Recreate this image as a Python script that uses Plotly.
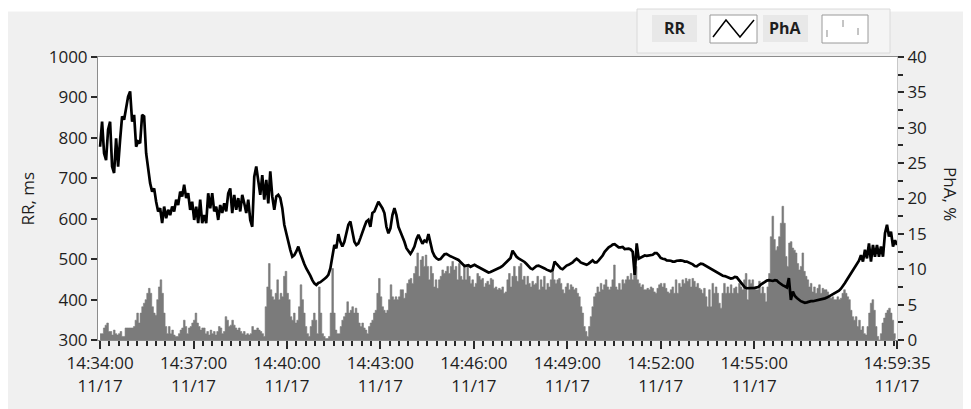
import numpy as np
import pandas as pd
import plotly.graph_objects as go

# ---------------- data ----------------
START = "2023-11-17 14:34:00"
DURATION_S = 1535  # 14:34:00 -> 14:59:35

# RR interval, ms (regular samples from 14:34:00 to 14:59:35)
RR = [
    778, 840, 762, 745, 820, 840, 729, 713, 799, 729,
    795, 853, 845, 877, 902, 915, 840, 857, 778, 791,
    787, 857, 853, 762, 725, 688, 667, 675, 642, 618,
    626, 589, 630, 601, 622, 609, 630, 618, 647, 634,
    667, 655, 684, 651, 663, 622, 642, 597, 630, 589,
    647, 589, 609, 589, 663, 626, 663, 618, 630, 597,
    634, 614, 638, 618, 663, 675, 614, 659, 622, 651,
    618, 659, 638, 614, 647, 597, 580, 704, 729, 696,
    659, 708, 647, 696, 638, 717, 655, 622, 655, 659,
    651, 626, 585, 564, 539, 523, 506, 510, 519, 531,
    515, 500, 488, 477, 469, 459, 448, 440, 436, 441,
    443, 446, 451, 455, 461, 477, 506, 535, 527, 562,
    543, 531, 543, 564, 585, 593, 564, 543, 535, 539,
    552, 568, 580, 593, 597, 580, 614, 618, 630, 642,
    634, 626, 614, 580, 564, 576, 609, 626, 609, 580,
    568, 556, 543, 527, 519, 513, 521, 531, 549, 560,
    549, 538, 546, 543, 562, 539, 519, 508, 502, 499,
    500, 506, 512, 513, 509, 507, 505, 503, 501, 498,
    493, 488, 483, 484, 485, 481, 483, 486, 483, 480,
    478, 476, 473, 470, 467, 468, 470, 473, 476, 478,
    480, 483, 488, 492, 497, 503, 521, 512, 506, 502,
    499, 497, 493, 488, 483, 477, 475, 479, 483, 484,
    482, 480, 477, 474, 472, 470, 473, 494, 488, 482,
    477, 475, 480, 484, 486, 488, 492, 497, 501, 497,
    492, 490, 487, 486, 489, 492, 497, 492, 492, 497,
    502, 509, 518, 525, 529, 532, 536, 537, 533, 529,
    529, 530, 525, 525, 526, 524, 518, 461, 539, 501,
    504, 507, 509, 508, 509, 510, 511, 515, 515, 510,
    503, 501, 500, 497, 497, 496, 494, 494, 496, 497,
    497, 496, 494, 494, 492, 490, 487, 483, 482, 486,
    489, 488, 485, 482, 480, 478, 475, 471, 467, 464,
    462, 459, 458, 456, 453, 452, 453, 456, 455, 449,
    442, 436, 430, 428, 428, 428, 428, 429, 430, 432,
    437, 441, 444, 447, 448, 446, 446, 448, 447, 442,
    438, 435, 433, 430, 453, 399, 420, 409, 404, 399,
    396, 394, 392, 393, 395, 396, 396, 397, 398, 400,
    401, 402, 403, 405, 408, 410, 412, 415, 418, 422,
    427, 433, 441, 449, 457, 465, 472, 478, 486, 496,
    510, 494, 523, 502, 539, 494, 535, 506, 535, 506,
    531, 506, 564, 585, 556, 568, 531, 547, 535,
]

# Phase angle, % (consecutive bins from 14:34:00 to 14:59:35)
PHA = [
    0.9, 0.9, 1.7, 2.1, 2.4, 1.2, 1.2, 0.7, 1.4, 0.9,
    0.7, 0.9, 1.2, 0.5, 0.5, 1.7, 1.7, 1.7, 1.7, 1.7,
    1.9, 2.8, 3.8, 2.4, 3.8, 4.7, 5.2, 5.7, 6.6, 7.3,
    6.6, 4.7, 3.8, 3.5, 5.7, 7.5, 8.5, 6.6, 3.8, 1.9,
    0.9, 1.9, 0.9, 1.4, 0.7, 0.5, 0.5, 0.9, 1.4, 1.7,
    2.8, 1.9, 0.9, 1.7, 1.9, 2.4, 2.8, 3.8, 2.4, 1.9,
    1.4, 1.7, 1.7,
    0.9, 1.2, 0.7, 1.4, 0.9, 1.2, 0.7, 1.2, 1.9, 1.7,
    0.9, 1.2, 3.3, 2.8, 1.9, 2.1, 2.8, 2.1, 1.7, 1.4,
    1.7, 1.2, 0.9, 1.2, 0.7, 0.9, 0.7, 0.9, 1.9, 1.4,
    1.4, 1.7, 1.4, 1.2, 0.9, 0.5, 4.7, 7.5, 10.8, 7.1,
    6.1, 5.7, 6.6, 8.5, 5.7, 6.6, 6.1, 9.0, 9.7, 6.6,
    5.7, 3.3, 2.8, 3.8, 2.4, 2.8, 4.7, 7.8, 5.7, 3.8,
    1.9, 0.9, 0.5, 1.9, 2.8, 3.8,
    2.8, 0.9, 7.5, 3.8, 0.9, 0.5, 0.2, 0.2, 0.5, 3.8,
    10.1, 3.8, 1.4, 0.9, 0.9, 1.9, 2.8, 3.3, 3.8, 5.4,
    3.8, 4.2, 4.7, 3.8, 4.5, 3.8, 2.4, 1.9, 2.4, 1.7,
    1.4, 0.9, 1.9, 2.4, 2.8, 3.8, 4.2, 6.6, 8.7, 6.1,
    4.7, 4.2, 3.8, 4.2, 5.7, 7.8, 6.1, 5.7, 6.1, 5.7,
    6.1, 7.1, 7.1, 5.9, 6.6, 8.0, 8.5, 8.7, 8.0, 9.4,
    10.4, 12.3, 9.0, 11.3, 11.8, 10.4,
    12.0, 10.4, 8.5, 10.4, 9.4, 7.5, 8.5, 7.3, 8.5, 9.0,
    9.9, 9.4, 9.7, 10.4, 9.4, 10.4, 11.1, 9.9, 10.4, 8.5,
    10.8, 9.0, 8.5, 10.4, 8.5, 10.4, 9.0, 8.0, 8.5, 7.5,
    8.0, 9.4, 9.0, 8.5, 8.7, 7.5, 8.0, 8.3, 7.8, 8.7,
    8.5, 7.3, 7.5, 7.1, 7.3, 7.1, 7.5, 6.6, 6.8, 8.5,
    9.4, 7.5, 9.0, 10.4, 9.0, 8.3, 10.4, 10.8, 8.5, 9.0,
    7.8, 9.0, 8.0, 7.5, 8.3, 7.8,
    8.0, 9.0, 7.1, 8.5, 7.5, 9.0, 7.1, 8.0, 7.5, 8.5,
    9.7, 8.5, 8.0, 8.5, 8.7, 8.0, 7.1, 6.6, 7.5, 8.0,
    7.1, 7.8, 7.5, 7.1, 7.3, 6.6, 6.1, 4.7, 3.8, 1.9,
    1.2, 0.5, 1.9, 3.3, 4.7, 6.1, 6.6, 7.5, 6.8, 8.0,
    7.1, 7.8, 8.5, 7.5, 7.1, 7.5, 8.5, 10.6, 7.5, 7.1,
    8.0, 7.1, 8.5, 8.0, 8.5, 9.0, 8.5, 9.4, 8.5, 9.9,
    10.4, 8.5, 8.0, 7.5, 7.8, 7.1,
    7.1, 7.3, 7.1, 7.5, 7.3, 6.8, 6.6, 7.3, 7.8, 8.0,
    7.5, 8.0, 7.3, 6.8, 6.6, 7.1, 7.5, 6.6, 8.5, 6.6,
    8.0, 7.5, 8.5, 8.0, 8.7, 8.3, 8.6, 7.5, 8.7, 8.3,
    7.5, 8.0, 7.3, 7.1, 6.6, 7.3, 6.1, 4.7, 7.1, 4.7,
    8.0, 6.6, 7.5, 6.6, 5.2, 4.5, 6.6, 8.0, 6.6, 7.5,
    6.6, 7.8, 6.6, 7.3, 7.5, 6.6, 8.0, 7.5, 7.1, 8.5,
    9.4, 5.7, 8.5, 8.0, 8.5, 7.5,
    7.1, 7.1, 8.3, 6.6, 7.5, 6.6, 5.4, 7.5, 9.4, 14.6,
    17.5, 14.2, 12.7, 13.2, 14.6, 16.5, 18.9, 16.5, 11.8, 10.4,
    13.7, 13.9, 13.0, 12.7, 12.3, 10.8, 9.9, 10.4, 12.3, 9.7,
    9.0, 8.5, 7.5, 8.0, 6.8, 7.5, 6.6, 7.3, 7.8, 6.6,
    7.3, 7.1, 7.1, 6.8, 6.1, 5.9, 6.1, 5.7, 5.7, 6.1,
    5.7, 5.9, 6.6, 7.1, 6.6, 6.1, 5.7, 4.2, 3.3, 2.8,
    3.3, 1.9, 2.8, 1.4, 1.9, 0.9, 0.7, 1.9, 3.8, 5.2,
    5.7, 4.2, 1.9, 0.5, 0.0, 0.9, 2.4, 3.1, 3.8, 4.2,
    4.5, 3.8, 2.8, 0.9, 0.2,
]

TICK_TIMES = ["14:34:00", "14:37:00", "14:40:00", "14:43:00", "14:46:00",
              "14:49:00", "14:52:00", "14:55:00", "14:59:35"]
TICK_DATE = "11/17"
RR_TICKS = [300, 400, 500, 600, 700, 800, 900, 1000]
PHA_TICKS = [0, 5, 10, 15, 20, 25, 30, 35, 40]

# ---------------- time bases ----------------
t0 = pd.Timestamp(START)
rr_t = t0 + pd.to_timedelta(np.arange(len(RR)) * (DURATION_S / (len(RR) - 1)), unit="s")
pha_t = t0 + pd.to_timedelta(np.arange(len(PHA)) * (DURATION_S / len(PHA)), unit="s")
tickvals = [pd.Timestamp("2023-11-17 " + s) for s in TICK_TIMES]
ticktext = [f"{s}<br>{TICK_DATE}" for s in TICK_TIMES]
x_range = [t0 - pd.Timedelta(seconds=4), t0 + pd.Timedelta(seconds=DURATION_S)]

# ---------------- layout geometry (window pixel coords) ----------------
WIN_W, WIN_H = 971, 409
OFF = 8                      # page body margin
WIDTH, HEIGHT = WIN_W - OFF, WIN_H - OFF
PLOT_L, PLOT_R, PLOT_T, PLOT_B = 98, 897, 57, 340
ML, MT = PLOT_L - OFF, PLOT_T - OFF
MR, MB = WIN_W - PLOT_R, WIN_H - PLOT_B
PW, PH = PLOT_R - PLOT_L, PLOT_B - PLOT_T


def px(x):
    return (x - PLOT_L) / PW


def py(y):
    return (PLOT_B - y) / PH


FONT = "Open Sans, DejaVu Sans, sans-serif"
TXT = "#1e1e1e"
TICKC = "#2a2a2a"

fig = go.Figure()
fig.add_trace(go.Scatter(
    x=pha_t, y=PHA, mode="lines", xaxis="x", yaxis="y",
    line=dict(shape="hv", width=0.6, color="#7b7b7b"),
    fill="tozeroy", fillcolor="#7b7b7b", showlegend=False, hoverinfo="skip"))
fig.add_trace(go.Scatter(
    x=rr_t, y=RR, mode="lines", xaxis="x", yaxis="y2",
    line=dict(color="#000000", width=2.7), showlegend=False))
# invisible trace carrying the minor-tick time axis
fig.add_trace(go.Scatter(
    x=[x_range[0]], y=[0], mode="markers", xaxis="x2", yaxis="y",
    marker=dict(opacity=0), showlegend=False, hoverinfo="skip"))

shapes = []
annotations = []


def rect(x0, y0, x1, y1, fill, line=None, lw=1, layer="above"):
    shapes.append(dict(type="rect", xref="paper", yref="paper",
                       x0=px(x0), x1=px(x1), y0=py(y1), y1=py(y0),
                       fillcolor=fill, line=dict(color=line or fill, width=lw if line else 0),
                       layer=layer))


def polyline(points, color, width):
    d = "M " + " L ".join(f"{px(x):.5f},{py(y):.5f}" for x, y in points)
    shapes.append(dict(type="path", xref="paper", yref="paper", path=d,
                       line=dict(color=color, width=width), layer="above"))


# thin white strip above the grey panel
rect(0, OFF, WIN_W, 11.5, "#ffffff", layer="below")

# legend panel
rect(637, 9, 890, 53, "#f5f5f5", "#dadada", 1)
rect(652, 15, 697, 42, "#e8e8e8")
rect(763, 15, 808, 42, "#e8e8e8")
rect(710, 15, 757, 43, "#ffffff", "#9a9a9a", 1)
rect(822, 15, 868, 43, "#ffffff", "#9a9a9a", 1)
polyline([(713, 37), (726, 20), (740, 37), (754, 20)], "#000000", 1.5)
polyline([(827, 30), (827, 37)], "#8a8a8a", 1)
polyline([(843, 20), (843, 27)], "#8a8a8a", 1)
polyline([(858, 28), (858, 35)], "#8a8a8a", 1)


def label(x, y, text, size=17, angle=0):
    annotations.append(dict(xref="paper", yref="paper", x=px(x), y=py(y), text=text,
                            xanchor="center", yanchor="middle", textangle=angle,
                            showarrow=False, font=dict(size=size, color=TXT, family=FONT)))


label(674.5, 28.5, "<b>RR</b>", 16)
label(785.5, 28.5, "<b>PhA</b>", 16)
label(27, 198.5, "RR, ms", 17, -90)
label(951, 194, "PhA, %", 17, 90)

tickfont = dict(family=FONT, size=17, color=TXT)

fig.update_layout(
    width=WIDTH, height=HEIGHT,
    margin=dict(l=ML, r=MR, t=MT, b=MB, pad=0),
    paper_bgcolor="#f0f0f0", plot_bgcolor="#ffffff",
    font=dict(family=FONT, size=17, color=TXT),
    showlegend=False,
    xaxis=dict(
        range=x_range,
        tickmode="array", tickvals=tickvals, ticktext=ticktext,
        ticks="outside", ticklen=8, tickwidth=2, tickcolor=TICKC,
        showline=True, linecolor="#8c8c8c", linewidth=1, mirror=True,
        showgrid=False, zeroline=False, tickfont=tickfont, tickangle=0,
    ),
    xaxis2=dict(
        overlaying="x", side="bottom", range=x_range,
        tickmode="linear", tick0=t0, dtick=18000,
        ticks="outside", ticklen=5, tickwidth=2, tickcolor=TICKC,
        showticklabels=False, showline=False, showgrid=False, zeroline=False,
    ),
    yaxis=dict(
        side="right", range=[0, 40], tickmode="array", tickvals=PHA_TICKS,
        ticks="outside", ticklen=6, tickwidth=1.5, tickcolor=TICKC,
        minor=dict(ticks="outside", ticklen=5, tickwidth=2, tickcolor=TICKC, dtick=2.5,
                   showgrid=False),
        showline=True, linecolor="#c8c8c8", linewidth=1,
        showgrid=False, zeroline=False, tickfont=tickfont,
    ),
    yaxis2=dict(
        overlaying="y", side="left", range=[300, 1000], tickmode="array", tickvals=RR_TICKS,
        ticks="outside", ticklen=6, tickwidth=1.5, tickcolor=TICKC,
        showline=True, linecolor="#8c8c8c", linewidth=1,
        showgrid=False, zeroline=False, tickfont=tickfont,
    ),
    shapes=shapes,
    annotations=annotations,
)

fig.write_html("out.html")
